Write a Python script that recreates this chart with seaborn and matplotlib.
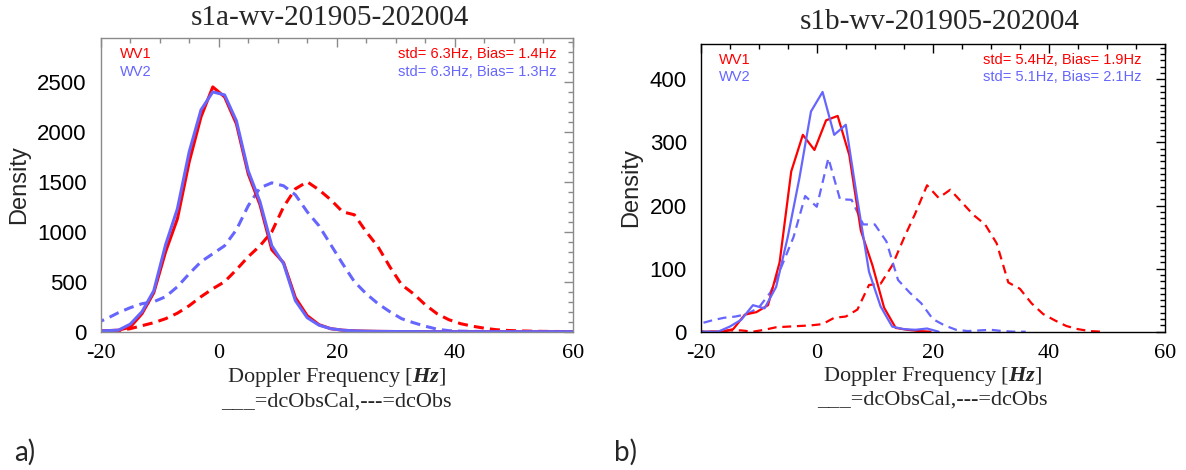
import numpy as np
import matplotlib
matplotlib.use("Agg")
import matplotlib.pyplot as plt
from matplotlib.ticker import MultipleLocator
import seaborn as sns

sns.set_theme(style="white")
plt.rcParams["font.family"] = ["Liberation Sans", "DejaVu Sans"]
plt.rcParams["axes.unicode_minus"] = False
plt.rcParams["mathtext.fontset"] = "custom"
plt.rcParams["mathtext.rm"] = "Liberation Serif"
plt.rcParams["mathtext.bf"] = "Liberation Serif:italic:bold"

RED = "#ff0000"
BLUE = "#6666ff"
SERIF = "Liberation Serif"

# ---------------- s1a: Doppler frequency histograms ----------------
a_x = [-21, -19, -17, -15, -13, -11, -9, -7, -5, -3, -1, 1, 3, 5, 7, 9, 11, 13,
       15, 17, 19, 21, 23, 25, 27, 29, 31, 33, 35, 37, 39, 41, 43, 45, 47, 49,
       51, 53, 55, 57, 59, 61]
a_wv1_cal = [8, 10, 15, 45, 180, 390, 800, 1130, 1700, 2150, 2450, 2350, 2080,
             1580, 1270, 820, 690, 340, 160, 70, 30, 15, 8, 5, 3, 2, 1, 1, 0, 0,
             0, 0, 0, 0, 0, 0, 0, 0, 0, 0, 0, 0]
a_wv2_cal = [8, 10, 15, 75, 200, 410, 870, 1230, 1800, 2220, 2400, 2370, 2110,
             1610, 1300, 860, 680, 310, 140, 65, 30, 15, 8, 5, 3, 2, 1, 1, 0, 0,
             0, 0, 0, 0, 0, 0, 0, 0, 0, 0, 0, 0]
a_wv1_obs = [0, 5, 10, 30, 60, 90, 130, 185, 260, 350, 430, 500, 620, 750, 860,
             1000, 1250, 1430, 1500, 1420, 1320, 1200, 1170, 1000, 850, 650, 470,
             380, 270, 180, 120, 80, 55, 35, 20, 12, 8, 5, 3, 2, 1, 1]
a_wv2_obs = [80, 130, 190, 240, 280, 300, 350, 450, 580, 700, 780, 860, 1020,
             1260, 1440, 1490, 1460, 1370, 1200, 1060, 870, 680, 500, 380, 280,
             200, 130, 90, 55, 25, 10, 5, 3, 2, 1, 1, 0, 0, 0, 0, 0, 0]

# ---------------- s1b: Doppler frequency histograms ----------------
b_x_wv1_cal = [-20.4, -18.4, -16.4, -14.4, -12.4, -10.4, -8.4, -6.4, -4.4, -2.4,
               -0.4, 1.6, 3.6, 5.6, 7.6, 9.6, 11.6, 13.6, 15.6, 17.6, 19.6]
b_wv1_cal = [0, 0, 0, 4, 27, 31, 42, 110, 254, 312, 288, 335, 342, 280, 160,
             105, 38, 6, 3, 1, 0]
b_x_wv2_cal = [-21, -19, -17, -15, -13, -11, -9, -7, -5, -3, -1, 1, 3, 5, 7, 9,
               11, 13, 15, 17, 19, 21]
b_wv2_cal = [0, 0, 0, 8, 19, 42, 37, 71, 150, 243, 349, 380, 312, 328, 209, 95,
             40, 8, 4, 3, 5, 0]
b_x_wv1_obs = [-21, -19, -17, -15, -13, -11, -9, -7, -5, -3, -1, 1, 3, 5, 7, 9,
               11, 13, 15, 17, 19, 21, 23, 25, 27, 29, 31, 33, 35, 37, 39, 41,
               43, 45, 47, 49]
b_wv1_obs = [0, 0, 0, 2, 2, 0, 3, 7, 8, 9, 10, 12, 22, 24, 35, 74, 76, 105, 148,
             188, 232, 212, 225, 205, 185, 170, 140, 78, 68, 45, 28, 18, 9, 4, 1, 0]
b_x_wv2_obs = [-22, -20, -18, -16, -14, -12, -10, -8, -6, -4, -2, 0, 2, 4, 6, 8,
               10, 12, 14, 16, 18, 20, 22, 24, 26, 28, 30, 32, 34, 36]
b_wv2_obs = [10, 13, 18, 22, 24, 28, 38, 62, 105, 150, 215, 198, 275, 210, 209,
             170, 170, 143, 82, 62, 45, 20, 10, 3, 1, 2, 3, 1, 0, 0]

titles = ["s1a-wv-201905-202004", "s1b-wv-201905-202004"]
stats_wv1 = ["std= 6.3Hz, Bias= 1.4Hz", "std= 5.4Hz, Bias= 1.9Hz"]
stats_wv2 = ["std= 6.3Hz, Bias= 1.3Hz", "std= 5.1Hz, Bias= 2.1Hz"]
panel_tags = ["a)", "b)"]
x_ticks = [-20, 0, 20, 40, 60]

fig = plt.figure(figsize=(11.86, 4.70), dpi=100)
ax_a = fig.add_axes([0.0849, 0.2943, 0.3980, 0.6249])
ax_b = fig.add_axes([0.5908, 0.2943, 0.3915, 0.6121])


def draw_panel(ax, series, lw, dash, frame_color, ymax, y_major, y_minor):
    for xs, ys, color, obs in series:
        ls = (0, dash) if obs else "-"
        sns.lineplot(x=xs, y=ys, ax=ax, color=color, linewidth=lw,
                     linestyle=ls, sort=False, estimator=None)
    ax.set_xlim(-20, 60)
    ax.set_ylim(0, ymax)
    ax.set_xticks(x_ticks)
    ax.xaxis.set_minor_locator(MultipleLocator(5))
    ax.yaxis.set_major_locator(MultipleLocator(y_major))
    ax.yaxis.set_minor_locator(MultipleLocator(y_minor))
    ax.tick_params(which="both", direction="in", top=True, right=True,
                   color=frame_color, width=1.0)
    ax.tick_params(which="major", length=6.5, labelcolor="black")
    ax.tick_params(axis="y", which="major", labelsize=16, pad=10)
    ax.tick_params(axis="x", which="major", labelsize=16, pad=9)
    ax.tick_params(which="minor", length=3.5)
    for lab in ax.get_xticklabels():
        lab.set_fontfamily(SERIF)
    for sp in ax.spines.values():
        sp.set_color(frame_color)
        sp.set_linewidth(1.0)
    ax.set_xlabel("")
    ax.set_ylabel("Density", fontsize=17, labelpad=5)
    ax.grid(False)


draw_panel(ax_a,
           [(a_x, a_wv1_obs, RED, True), (a_x, a_wv2_obs, BLUE, True),
            (a_x, a_wv1_cal, RED, False), (a_x, a_wv2_cal, BLUE, False)],
           lw=2.2, dash=(3.3, 2.0), frame_color="#8a8a8a",
           ymax=max(a_wv1_cal) * 1.2, y_major=500, y_minor=100)
draw_panel(ax_b,
           [(b_x_wv1_obs, b_wv1_obs, RED, True), (b_x_wv2_obs, b_wv2_obs, BLUE, True),
            (b_x_wv1_cal, b_wv1_cal, RED, False), (b_x_wv2_cal, b_wv2_cal, BLUE, False)],
           lw=1.6, dash=(4.0, 2.6), frame_color="black",
           ymax=max(b_wv2_cal) * 1.2, y_major=100, y_minor=10)

title_x = [330 / 1186, 940 / 1186]
title_y = [1 - 18 / 470, 1 - 22 / 470]
for i, ax in enumerate([ax_a, ax_b]):
    fig.text(title_x[i], title_y[i], titles[i], fontfamily=SERIF,
             fontsize=21, ha="center", va="center")
    ax.text(0.04, 0.946, "WV1", color=RED, fontsize=10.5, transform=ax.transAxes,
            ha="left", va="center")
    ax.text(0.04, 0.885, "WV2", color=BLUE, fontsize=10.5, transform=ax.transAxes,
            ha="left", va="center")
    rx = [0.965, 0.950][i]
    ax.text(rx, 0.946, stats_wv1[i], color=RED, fontsize=10.5,
            transform=ax.transAxes, ha="right", va="center")
    ax.text(rx, 0.885, stats_wv2[i], color=BLUE, fontsize=10.5,
            transform=ax.transAxes, ha="right", va="center")
    ax.text(0.5, -0.155, r"Doppler Frequency [$\mathbf{Hz}$]", fontfamily=SERIF,
            fontsize=16, transform=ax.transAxes, ha="center", va="center")
    ax.text(0.5, -0.238, "___=dcObsCal,---=dcObs", fontfamily=SERIF,
            fontsize=16, transform=ax.transAxes, ha="center", va="center")

fig.text(14 / 1186, 1 - 452 / 470, panel_tags[0], fontsize=20, fontfamily="Lato",
         ha="left", va="center")
fig.text(614 / 1186, 1 - 452 / 470, panel_tags[1], fontsize=20, fontfamily="Lato",
         ha="left", va="center")

fig.savefig("out.png", dpi=100, facecolor="white")
